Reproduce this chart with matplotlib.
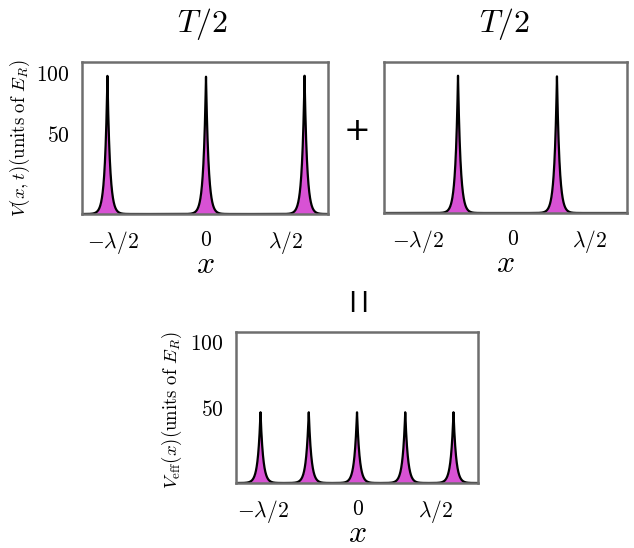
import numpy as np
import matplotlib
matplotlib.use("Agg")
import matplotlib.pyplot as plt

plt.rcParams["mathtext.fontset"] = "cm"
plt.rcParams["font.family"] = ["DejaVu Serif"]

# Lattice peaks: positions (in units of lambda), heights, widths, baseline
peaks_first = [-0.5, 0.0, 0.5]
peaks_second = [-0.25, 0.25]
peaks_eff = [-0.5, -0.25, 0.0, 0.25, 0.5]

height_half = 97.5        # V(x,t) peak during each half period
height_eff = 46.6         # V_eff(x) peak
base_half = -16.6
base_eff = -7.7
width_half = 0.013
width_eff = 0.0135

# Axis ranges and tick positions
xlim_first = (-0.629, 0.619)
xlim_second = (-0.624, 0.604)
xlim_eff = (-0.627, 0.627)
ylim_half = (-16.6, 108.8)
ylim_eff = (-7.7, 107.4)

xticks_first = [-0.472, 0.0, 0.406]
xticks_second = [-0.452, 0.028, 0.417]
xticks_eff = [-0.487, 0.005, 0.409]
xtick_labels = [r"$-\lambda/2$", r"$0$", r"$\lambda/2$"]
yticks = [50, 100]
ytick_labels = [r"$50$", r"$100$"]

fill_color = "#d852d4"
spine_color = "#6e6e6e"


def potential(x, centers, height, width, base):
    v = np.zeros_like(x)
    for c in centers:
        v += np.exp(-np.abs(x - c) / width)
    return base + (height - base) * v


fig = plt.figure(figsize=(6.34, 5.48), dpi=100)
W, H = 634.0, 548.0


def make_axes(l, r, t, b):
    return fig.add_axes([l / W, 1 - b / H, (r - l) / W, (b - t) / H])


def draw(ax, centers, height, width, base, xlim, ylim, xticks, show_y):
    x = np.linspace(xlim[0], xlim[1], 6000)
    v = potential(x, centers, height, width, base)
    ax.fill_between(x, ylim[0], v, color=fill_color, lw=0)
    ax.plot(x, v, color="black", lw=1.6)
    ax.set_xlim(*xlim)
    ax.set_ylim(*ylim)
    ax.set_xticks(xticks)
    ax.set_xticklabels(xtick_labels, fontsize=15.5)
    if show_y:
        ax.set_yticks(yticks)
        ax.set_yticklabels(ytick_labels, fontsize=15.5)
    else:
        ax.set_yticks([])
    ax.tick_params(axis="x", length=0, pad=11)
    ax.tick_params(axis="y", length=0, pad=9)
    for s in ax.spines.values():
        s.set_color(spine_color)
        s.set_linewidth(1.8)
    ax.set_xlabel(r"$x$", fontsize=23, labelpad=-5)


ax1 = make_axes(82, 328, 62, 214)
draw(ax1, peaks_first, height_half, width_half, base_half,
     xlim_first, ylim_half, xticks_first, True)

ax2 = make_axes(384, 627, 62, 213)
draw(ax2, peaks_second, height_half, width_half, base_half,
     xlim_second, ylim_half, xticks_second, False)

ax3 = make_axes(236, 478, 332, 483)
draw(ax3, peaks_eff, height_eff, width_eff, base_eff,
     xlim_eff, ylim_eff, xticks_eff, True)

# Titles, operators and y labels
fig.text(203 / W, 1 - 24 / H, r"$T/2$", fontsize=23, ha="center", va="center")
fig.text(505 / W, 1 - 24 / H, r"$T/2$", fontsize=23, ha="center", va="center")
fig.text(357 / W, 1 - 131 / H, "+", fontsize=23, family="DejaVu Sans",
         ha="center", va="center")
for bar_x in (352.7, 364.0):
    fig.text(bar_x / W, 1 - 301 / H, "|", fontsize=16, fontweight="bold",
             family="DejaVu Sans", ha="center", va="center")
fig.text(20 / W, 1 - 138 / H,
         r"$V(x,t)\mathrm{(units\ of\ }E_R\mathrm{)}$",
         fontsize=13.5, rotation=90, ha="center", va="center")
fig.text(172 / W, 1 - 410 / H,
         r"$V_{\mathrm{eff}}(x)\mathrm{(units\ of\ }E_R\mathrm{)}$",
         fontsize=13.5, rotation=90, ha="center", va="center")

fig.savefig("out.png", dpi=100)
